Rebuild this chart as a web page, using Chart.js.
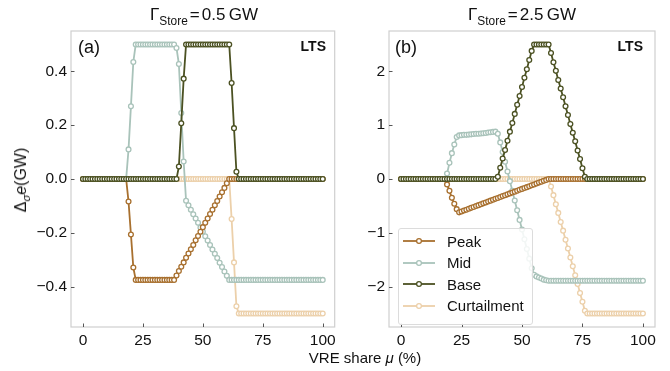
<!DOCTYPE html>
<html>
<head>
<meta charset="utf-8">
<script src="https://cdn.jsdelivr.net/npm/chart.js@4.4.1/dist/chart.umd.min.js"></script>
<style>
  body { margin: 0; background: #fff; font-family: 'Liberation Sans', Arial, sans-serif; color: #111; }
  #fig { position: relative; width: 670px; height: 371px; overflow: hidden; }
  canvas { position: absolute; top: 0; }
  .txt { position: absolute; white-space: nowrap; line-height: 1; }
  .title { top: 6px; font-size: 17px; transform: translateX(-50%); }
  .title .eq { margin: 0 2px; }
  sub { font-size: 70%; vertical-align: -0.4em; line-height: 0; }
  .tag { top: 38px; font-size: 18px; }
  .lts { top: 39px; font-size: 14px; font-weight: bold; transform: translateX(-100%); }
  #xlab { left: 365px; top: 350px; font-size: 15px; transform: translateX(-50%); }
  #ylab { left: 21px; top: 180px; font-size: 16px; transform: translate(-50%, -50%) rotate(-90deg); }
  #legend { position: absolute; left: 398px; top: 228px; width: 133px; height: 95px;
            border: 1px solid #dcdcdc; border-radius: 3px; background: rgba(255,255,255,0.85); }
  .row { position: absolute; left: 3px; height: 16px; display: flex; align-items: center; font-size: 15px; }
  .row svg { margin-right: 11px; }
</style>
</head>
<body>
<div id="fig">
  <canvas id="panelA" width="340" height="371" style="left:0"></canvas>
  <canvas id="panelB" width="330" height="371" style="left:340px"></canvas>
  <div class="txt title" style="left:204px">Γ<sub>Store</sub><span class="eq">=</span>0.5&thinsp;GW</div>
  <div class="txt title" style="left:522px">Γ<sub>Store</sub><span class="eq">=</span>2.5&thinsp;GW</div>
  <div class="txt tag" style="left:78px">(a)</div>
  <div class="txt tag" style="left:395px">(b)</div>
  <div class="txt lts" style="left:326px">LTS</div>
  <div class="txt lts" style="left:643px">LTS</div>
  <div class="txt" id="xlab">VRE share <i>μ</i> (%)</div>
  <div class="txt" id="ylab">Δ<sub><i>σ</i></sub><i>e</i>(GW)</div>
  <div id="legend"></div>
</div>
<script>
// VRE share on the x axis (%)
const muShare = [
  0, 1, 2, 3, 4, 5, 6, 7, 8, 9,
  10, 11, 12, 13, 14, 15, 16, 17, 18, 19,
  20, 21, 22, 23, 24, 25, 26, 27, 28, 29,
  30, 31, 32, 33, 34, 35, 36, 37, 38, 39,
  40, 41, 42, 43, 44, 45, 46, 47, 48, 49,
  50, 51, 52, 53, 54, 55, 56, 57, 58, 59,
  60, 61, 62, 63, 64, 65, 66, 67, 68, 69,
  70, 71, 72, 73, 74, 75, 76, 77, 78, 79,
  80, 81, 82, 83, 84, 85, 86, 87, 88, 89,
  90, 91, 92, 93, 94, 95, 96, 97, 98, 99,
  100
];

// (a) storage 0.5 GW
const peakA = [
  0, 0, 0, 0, 0, 0, 0, 0, 0, 0,
  0, 0, 0, 0, 0, 0, 0, 0, 0, -0.084,
  -0.206, -0.329, -0.375, -0.375, -0.375, -0.375, -0.375, -0.375, -0.375, -0.375,
  -0.375, -0.375, -0.375, -0.375, -0.375, -0.375, -0.375, -0.375, -0.375, -0.359,
  -0.342, -0.326, -0.310, -0.293, -0.277, -0.261, -0.245, -0.228, -0.212, -0.196,
  -0.179, -0.163, -0.147, -0.130, -0.114, -0.098, -0.082, -0.065, -0.049, -0.033,
  -0.016, 0, 0, 0, 0, 0, 0, 0, 0, 0,
  0, 0, 0, 0, 0, 0, 0, 0, 0, 0,
  0, 0, 0, 0, 0, 0, 0, 0, 0, 0,
  0, 0, 0, 0, 0, 0, 0, 0, 0, 0,
  0
];
const midA = [
  0, 0, 0, 0, 0, 0, 0, 0, 0, 0,
  0, 0, 0, 0, 0, 0, 0, 0, 0, 0.11,
  0.27, 0.435, 0.5, 0.5, 0.5, 0.5, 0.5, 0.5, 0.5, 0.5,
  0.5, 0.5, 0.5, 0.5, 0.5, 0.5, 0.5, 0.5, 0.5, 0.487,
  0.427, 0.245, 0.065, -0.081, -0.098, -0.114, -0.131, -0.147, -0.163, -0.180,
  -0.196, -0.213, -0.229, -0.245, -0.262, -0.278, -0.294, -0.311, -0.327, -0.344,
  -0.360, -0.375, -0.375, -0.375, -0.375, -0.375, -0.375, -0.375, -0.375, -0.375,
  -0.375, -0.375, -0.375, -0.375, -0.375, -0.375, -0.375, -0.375, -0.375, -0.375,
  -0.375, -0.375, -0.375, -0.375, -0.375, -0.375, -0.375, -0.375, -0.375, -0.375,
  -0.375, -0.375, -0.375, -0.375, -0.375, -0.375, -0.375, -0.375, -0.375, -0.375,
  -0.375
];
const baseA = [
  0, 0, 0, 0, 0, 0, 0, 0, 0, 0,
  0, 0, 0, 0, 0, 0, 0, 0, 0, 0,
  0, 0, 0, 0, 0, 0, 0, 0, 0, 0,
  0, 0, 0, 0, 0, 0, 0, 0, 0, 0,
  0.046, 0.207, 0.373, 0.5, 0.5, 0.5, 0.5, 0.5, 0.5, 0.5,
  0.5, 0.5, 0.5, 0.5, 0.5, 0.5, 0.5, 0.5, 0.5, 0.5,
  0.5, 0.5, 0.357, 0.189, 0.027, 0, 0, 0, 0, 0,
  0, 0, 0, 0, 0, 0, 0, 0, 0, 0,
  0, 0, 0, 0, 0, 0, 0, 0, 0, 0,
  0, 0, 0, 0, 0, 0, 0, 0, 0, 0,
  0
];
const curtA = [
  0, 0, 0, 0, 0, 0, 0, 0, 0, 0,
  0, 0, 0, 0, 0, 0, 0, 0, 0, 0,
  0, 0, 0, 0, 0, 0, 0, 0, 0, 0,
  0, 0, 0, 0, 0, 0, 0, 0, 0, 0,
  0, 0, 0, 0, 0, 0, 0, 0, 0, 0,
  0, 0, 0, 0, 0, 0, 0, 0, 0, 0,
  0, 0, -0.149, -0.31, -0.473, -0.5, -0.5, -0.5, -0.5, -0.5,
  -0.5, -0.5, -0.5, -0.5, -0.5, -0.5, -0.5, -0.5, -0.5, -0.5,
  -0.5, -0.5, -0.5, -0.5, -0.5, -0.5, -0.5, -0.5, -0.5, -0.5,
  -0.5, -0.5, -0.5, -0.5, -0.5, -0.5, -0.5, -0.5, -0.5, -0.5,
  -0.5
];

// (b) storage 2.5 GW
const peakB = [
  0, 0, 0, 0, 0, 0, 0, 0, 0, 0,
  0, 0, 0, 0, 0, 0, 0, 0, 0, -0.1,
  -0.22, -0.35, -0.46, -0.56, -0.62, -0.603, -0.586, -0.570, -0.553, -0.536,
  -0.519, -0.503, -0.486, -0.469, -0.452, -0.436, -0.419, -0.402, -0.385, -0.369,
  -0.352, -0.335, -0.318, -0.302, -0.285, -0.268, -0.251, -0.235, -0.218, -0.201,
  -0.184, -0.168, -0.151, -0.134, -0.117, -0.101, -0.084, -0.067, -0.050, -0.034,
  -0.017, 0, 0, 0, 0, 0, 0, 0, 0, 0,
  0, 0, 0, 0, 0, 0, 0, 0, 0, 0,
  0, 0, 0, 0, 0, 0, 0, 0, 0, 0,
  0, 0, 0, 0, 0, 0, 0, 0, 0, 0,
  0
];
const midB = [
  0, 0, 0, 0, 0, 0, 0, 0, 0, 0,
  0, 0, 0, 0, 0, 0, 0, 0, 0, 0.1,
  0.3, 0.48, 0.64, 0.78, 0.81, 0.815, 0.82, 0.82, 0.825, 0.83,
  0.835, 0.84, 0.84, 0.845, 0.85, 0.855, 0.865, 0.87, 0.875, 0.88,
  0.84, 0.68, 0.5, 0.32, 0.14, -0.04, -0.22, -0.4, -0.58, -0.76,
  -0.94, -1.12, -1.3, -1.48, -1.66, -1.78, -1.81, -1.83, -1.85, -1.87,
  -1.88, -1.89, -1.89, -1.89, -1.89, -1.89, -1.89, -1.89, -1.89, -1.89,
  -1.89, -1.89, -1.89, -1.89, -1.89, -1.89, -1.89, -1.89, -1.89, -1.89,
  -1.89, -1.89, -1.89, -1.89, -1.89, -1.89, -1.89, -1.89, -1.89, -1.89,
  -1.89, -1.89, -1.89, -1.89, -1.89, -1.89, -1.89, -1.89, -1.89, -1.89,
  -1.89
];
const baseB = [
  0, 0, 0, 0, 0, 0, 0, 0, 0, 0,
  0, 0, 0, 0, 0, 0, 0, 0, 0, 0,
  0, 0, 0, 0, 0, 0, 0, 0, 0, 0,
  0, 0, 0, 0, 0, 0, 0, 0, 0, 0,
  0.04, 0.21, 0.38, 0.54, 0.71, 0.88, 1.04, 1.21, 1.38, 1.54,
  1.71, 1.88, 2.04, 2.21, 2.38, 2.5, 2.5, 2.5, 2.5, 2.5,
  2.5, 2.5, 2.34, 2.17, 2.01, 1.84, 1.68, 1.52, 1.35, 1.19,
  1.02, 0.86, 0.70, 0.53, 0.37, 0.2, 0.04, 0, 0, 0,
  0, 0, 0, 0, 0, 0, 0, 0, 0, 0,
  0, 0, 0, 0, 0, 0, 0, 0, 0, 0,
  0
];
const curtB = [
  0, 0, 0, 0, 0, 0, 0, 0, 0, 0,
  0, 0, 0, 0, 0, 0, 0, 0, 0, 0,
  0, 0, 0, 0, 0, 0, 0, 0, 0, 0,
  0, 0, 0, 0, 0, 0, 0, 0, 0, 0,
  0, 0, 0, 0, 0, 0, 0, 0, 0, 0,
  0, 0, 0, 0, 0, 0, 0, 0, 0, 0,
  0, 0, -0.14, -0.30, -0.47, -0.63, -0.80, -0.96, -1.13, -1.29,
  -1.46, -1.62, -1.79, -1.95, -2.12, -2.28, -2.45, -2.5, -2.5, -2.5,
  -2.5, -2.5, -2.5, -2.5, -2.5, -2.5, -2.5, -2.5, -2.5, -2.5,
  -2.5, -2.5, -2.5, -2.5, -2.5, -2.5, -2.5, -2.5, -2.5, -2.5,
  -2.5
];

// ticks
const xTicks = [0, 25, 50, 75, 100];
const yTicksA = [-0.4, -0.2, 0, 0.2, 0.4];
const yLabelsA = ['\u22120.4', '\u22120.2', '0.0', '0.2', '0.4'];
const yTicksB = [-2, -1, 0, 1, 2];
const yLabelsB = ['\u22122', '\u22121', '0', '1', '2'];

const seriesNames = ['Peak', 'Mid', 'Base', 'Curtailment'];
const seriesColors = ['#a8702f', '#a9c3ba', '#4b5122', '#ecd0aa'];
// Base on top, Curtailment at the bottom
const drawOrder = [1, 2, 0, 3];

Chart.defaults.font.family = "'Liberation Sans', Arial, sans-serif";
Chart.defaults.color = '#111';

// light box round the plot area, small ticks pointing inwards
const frameTicks = {
  id: 'frameTicks',
  afterDraw(chart) {
    const { ctx, chartArea: a, scales } = chart;
    ctx.save();
    ctx.strokeStyle = '#cfcfcf';
    ctx.lineWidth = 1.2;
    ctx.strokeRect(a.left, a.top, a.width, a.height);
    ctx.strokeStyle = '#444';
    ctx.lineWidth = 0.9;
    ctx.beginPath();
    scales.x.ticks.forEach(t => {
      const px = Math.round(scales.x.getPixelForValue(t.value)) + 0.5;
      ctx.moveTo(px, a.bottom);
      ctx.lineTo(px, a.bottom - 3.5);
    });
    scales.y.ticks.forEach(t => {
      const py = Math.round(scales.y.getPixelForValue(t.value)) + 0.5;
      ctx.moveTo(a.left, py);
      ctx.lineTo(a.left + 3.5, py);
    });
    ctx.stroke();
    ctx.restore();
  }
};

function makePanel(id, series, yMax, yTicks, yLabels, yWidth, padRight) {
  return new Chart(document.getElementById(id), {
    type: 'line',
    data: {
      labels: muShare,
      datasets: series.map((s, i) => ({
        label: seriesNames[i],
        data: s,
        order: drawOrder[i],
        borderColor: seriesColors[i],
        borderWidth: 1.8,
        pointRadius: 2.4,
        pointBorderWidth: 1.3,
        pointBackgroundColor: '#ffffff',
        pointBorderColor: seriesColors[i],
        tension: 0
      }))
    },
    options: {
      responsive: false,
      animation: false,
      layout: { padding: { top: 31, right: padRight, left: 0, bottom: 0 } },
      plugins: { legend: { display: false }, tooltip: { enabled: false } },
      scales: {
        x: {
          type: 'linear',
          min: -5, max: 105,
          afterBuildTicks: s => { s.ticks = xTicks.map(v => ({ value: v })); },
          afterFit: s => { s.height = 44; },
          grid: { display: false, drawTicks: false },
          border: { display: false },
          ticks: { font: { size: 15.5 }, padding: 4, maxRotation: 0 }
        },
        y: {
          min: -yMax * 1.1, max: yMax * 1.1,
          afterBuildTicks: s => { s.ticks = yTicks.map(v => ({ value: v })); },
          afterFit: s => { s.width = yWidth; },
          grid: { display: false, drawTicks: false },
          border: { display: false },
          ticks: { font: { size: 15.5 }, padding: 4, callback: (v, i) => yLabels[i] }
        }
      }
    },
    plugins: [frameTicks]
  });
}

makePanel('panelA', [peakA, midA, baseA, curtA], 0.5, yTicksA, yLabelsA, 71, 3);
makePanel('panelB', [peakB, midB, baseB, curtB], 2.5, yTicksB, yLabelsB, 49, 15);

// legend inside panel (b)
const legend = document.getElementById('legend');
seriesNames.forEach((name, i) => {
  const row = document.createElement('div');
  row.className = 'row';
  row.style.top = (4 + i * 21.5) + 'px';
  const c = seriesColors[i];
  row.innerHTML = '<svg width="34" height="10"><line x1="1" y1="5" x2="33" y2="5" stroke="' + c +
    '" stroke-width="1.8"/><circle cx="17" cy="5" r="2.4" fill="#fff" stroke="' + c +
    '" stroke-width="1.3"/></svg><span>' + name + '</span>';
  legend.appendChild(row);
});
</script>
</body>
</html>
